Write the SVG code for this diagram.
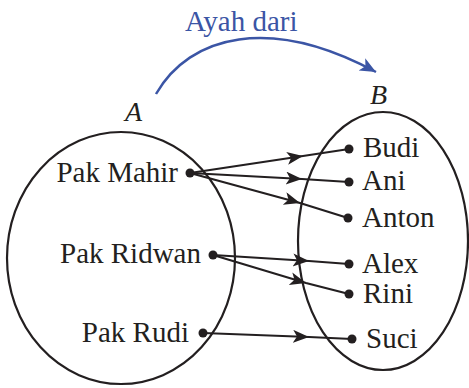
<svg xmlns="http://www.w3.org/2000/svg" width="469" height="388" viewBox="0 0 469 388">
<style>
.lbl{font-family:"Liberation Serif","Times New Roman",serif;font-size:29px;fill:#231f20}
.set{font-family:"Liberation Serif","Times New Roman",serif;font-size:28px;font-style:italic;fill:#231f20}
.ell{fill:none;stroke:#231f20;stroke-width:2.2}
.edge{fill:none;stroke:#231f20;stroke-width:2.2}
.dot{fill:#231f20}
</style>
<defs>
<marker id="ah" markerUnits="userSpaceOnUse" markerWidth="22" markerHeight="16" refX="16" refY="6.5" orient="auto">
<path d="M0,0 L16,6.5 L0,13 L4,6.5 Z" fill="#231f20"/>
</marker>
<marker id="bh" markerUnits="userSpaceOnUse" markerWidth="22" markerHeight="16" refX="16" refY="7" orient="auto">
<path d="M0,0 L16,7 L0,14 L4,7 Z" fill="#3b55a5"/>
</marker>
</defs>
<g id="setA">
<ellipse class="ell" cx="121" cy="258" rx="114" ry="126"/>
<text class="set" x="125" y="121">A</text>
</g>
<g id="setB">
<ellipse class="ell" cx="383" cy="241" rx="85" ry="129"/>
<text class="set" x="370" y="104">B</text>
</g>
<g id="relation">
<path d="M156,94 C190,35 270,15 376,72" fill="none" stroke="#3b55a5" stroke-width="2.5" marker-end="url(#bh)"/>
<text x="185" y="31" style="font-family:'Liberation Serif','Times New Roman',serif;font-size:29px;fill:#3b55a5">Ayah dari</text>
</g>
<g id="connectors">
<path class="edge" d="M190,173 L303,156 L349,149" marker-mid="url(#ah)"/>
<path class="edge" d="M190,173 L302,179 L349,182" marker-mid="url(#ah)"/>
<path class="edge" d="M190,173 L300,203 L348,218" marker-mid="url(#ah)"/>
<path class="edge" d="M213,255 L309,261 L349,264" marker-mid="url(#ah)"/>
<path class="edge" d="M213,255 L306,283 L349,294" marker-mid="url(#ah)"/>
<path class="edge" d="M203,333 L309,337 L352,339" marker-mid="url(#ah)"/>
</g>
<g id="pak-mahir"><circle class="dot" cx="190" cy="173" r="4.5"/><text class="lbl" x="178" y="182" text-anchor="end">Pak Mahir</text></g>
<g id="pak-ridwan"><circle class="dot" cx="213" cy="255" r="4.5"/><text class="lbl" x="201" y="263" text-anchor="end">Pak Ridwan</text></g>
<g id="pak-rudi"><circle class="dot" cx="203" cy="333" r="4.5"/><text class="lbl" x="189" y="342" text-anchor="end">Pak Rudi</text></g>
<g id="budi"><circle class="dot" cx="349" cy="149" r="4.5"/><text class="lbl" x="363" y="157">Budi</text></g>
<g id="ani"><circle class="dot" cx="349" cy="182" r="4.5"/><text class="lbl" x="362" y="190">Ani</text></g>
<g id="anton"><circle class="dot" cx="348" cy="218" r="4.5"/><text class="lbl" x="362" y="227">Anton</text></g>
<g id="alex"><circle class="dot" cx="349" cy="264" r="4.5"/><text class="lbl" x="362" y="273">Alex</text></g>
<g id="rini"><circle class="dot" cx="349" cy="294" r="4.5"/><text class="lbl" x="363" y="303">Rini</text></g>
<g id="suci"><circle class="dot" cx="352" cy="339" r="4.5"/><text class="lbl" x="366" y="348">Suci</text></g>
</svg>
